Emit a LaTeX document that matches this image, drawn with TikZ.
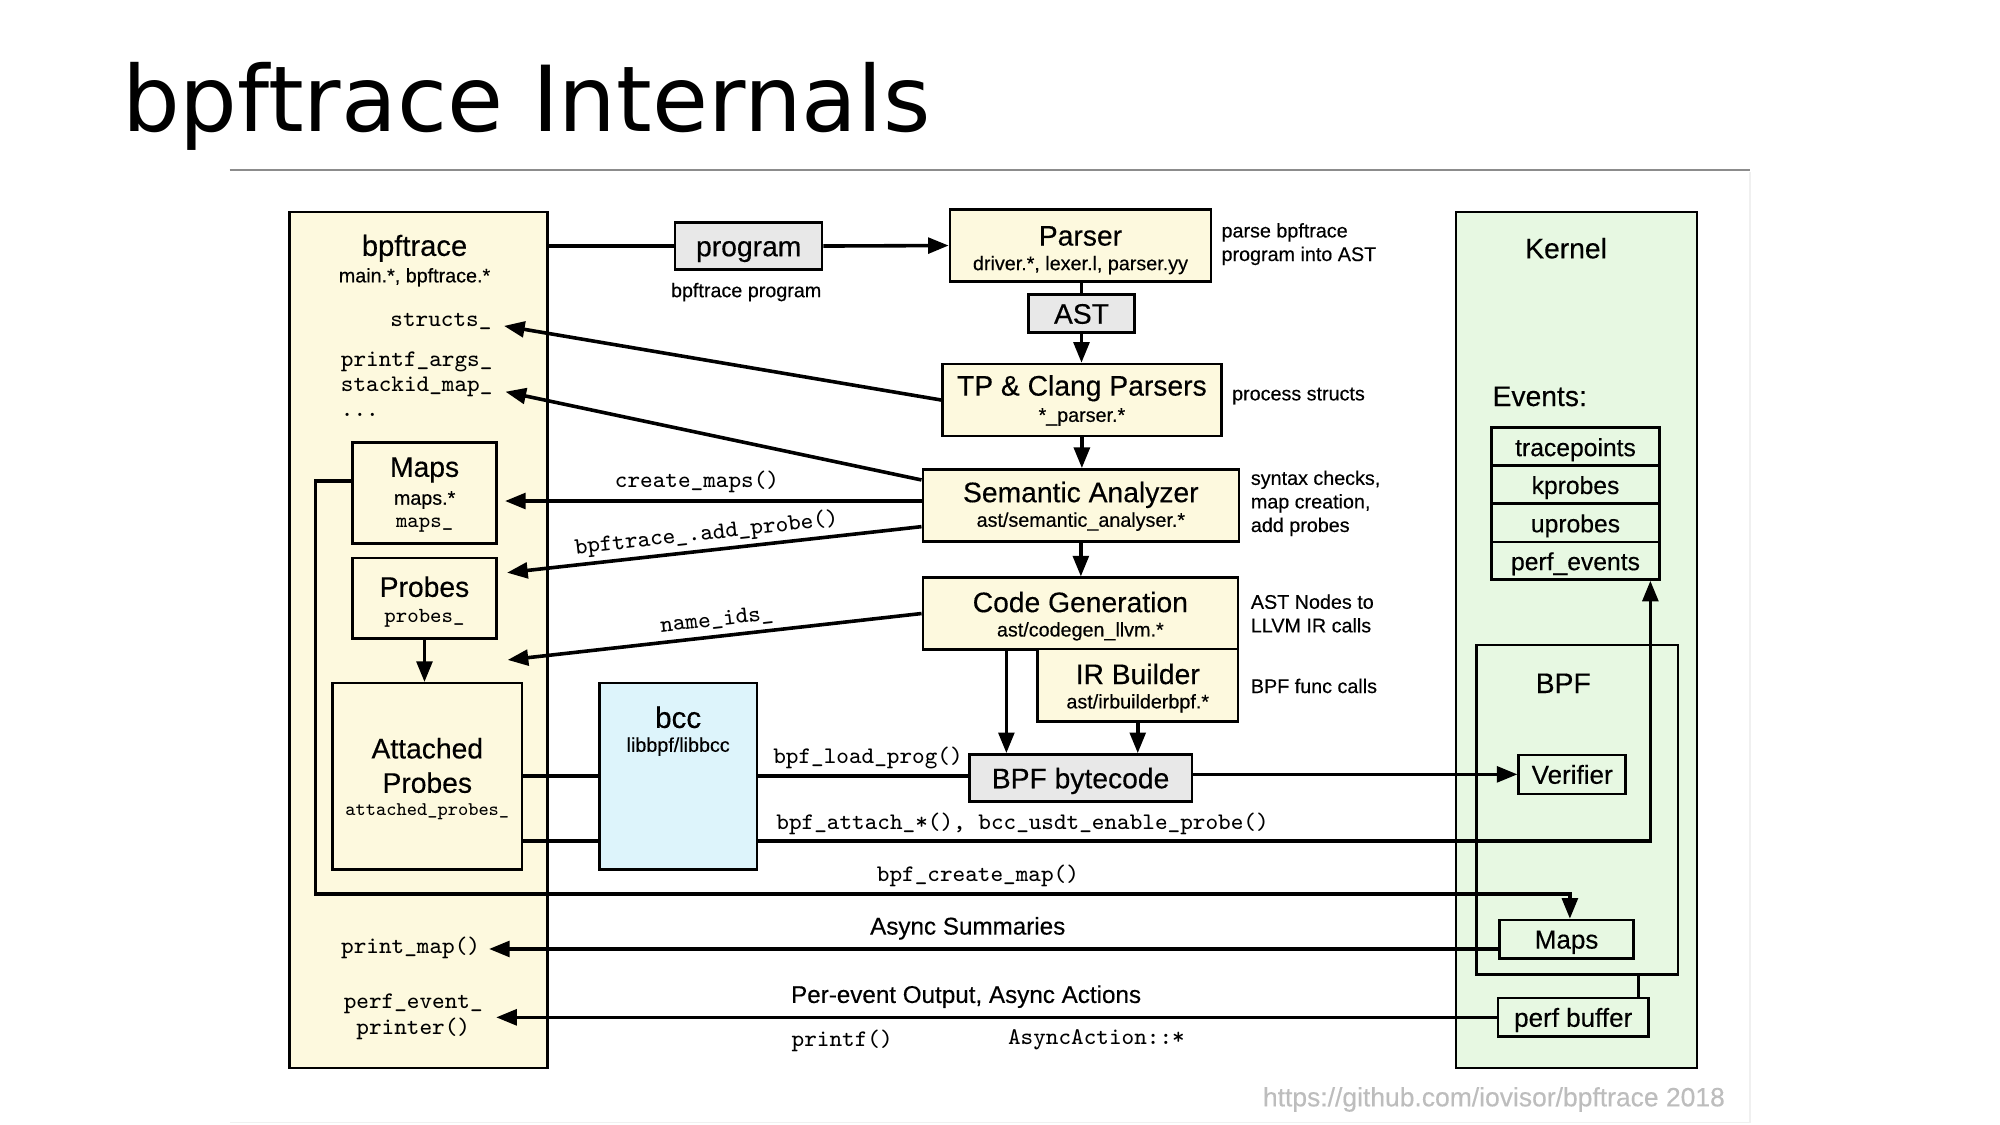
\documentclass[tikz,border=0pt]{standalone}
\usepackage{fontspec}
\setmainfont{Liberation Sans}[FakeBold=0.35]
\newfontfamily\titlefont{DejaVu Sans}
\usetikzlibrary{arrows.meta,calc}

\definecolor{cream}{HTML}{FDF9DE}
\definecolor{boxgray}{HTML}{E8E8E8}
\definecolor{bccblue}{HTML}{DDF4FB}
\definecolor{kgreen}{HTML}{E7F8E2}
\definecolor{footgray}{HTML}{BDBDBD}

\begin{document}
\begin{tikzpicture}[x=0.01cm,y=-0.01cm,
    every node/.style={inner sep=0pt},
    panel/.style={draw, line width=0.55pt},
    box/.style={panel, fill=cream},
    graybox/.style={panel, fill=boxgray, font=\fontsize{6.3}{7.6}\selectfont, text height=5.3pt, text depth=0.75pt},
    kbox/.style={panel, font=\fontsize{5.8}{7}\selectfont, text height=4.85pt, text depth=0.65pt},
    hd/.style={font=\fontsize{6.3}{7.6}\selectfont},
    sub/.style={font=\fontsize{4.4}{5.3}\selectfont},
    note/.style={font=\fontsize{4.4}{5.25}\selectfont, align=left, anchor=west},
    code/.style={font=\ttfamily\fontsize{5.3}{5.8}\selectfont},
    lbl/.style={font=\fontsize{5.4}{6.5}\selectfont},
    conn/.style={line width=0.8pt},
    arr/.style={conn, -{Triangle[length=4.6pt,width=3.5pt]}},
  ]
  \useasboundingbox (0,0) rectangle (1568,882);

  % slide title and frame
  \node[anchor=base west, font=\titlefont\fontsize{20.3}{24}\selectfont] (title) at (95,103) {bpftrace Internals};
  \draw[black!45, line width=0.4pt] (180,133) -- (1372,133);
  \draw[black!6, line width=0.4pt] (1372,135) -- (1372,880) -- (180,880);
  \node[anchor=east, font=\fontsize{5.9}{7}\selectfont, text=footgray] (foot) at (1353,862) {https://github.com/iovisor/bpftrace 2018};

  % the two sides
  \node[panel, fill=cream, minimum width=2.02cm, minimum height=6.704cm] (bpft) at (328,501.8) {};
  \node[panel, fill=kgreen, minimum width=1.89cm, minimum height=6.704cm] (kern) at (1236,501.8) {};
  \node[panel, minimum width=1.578cm, minimum height=2.58cm] (bpfbox) at (1236.6,634.8) {};

  % user space boxes
  \node[graybox, minimum width=1.152cm, minimum height=0.366cm] (prog) at (587,192.9) {program};
  \node[box, minimum width=2.046cm, minimum height=0.567cm] (parser) at (847.1,192.5) {};
  \node[graybox, minimum width=0.831cm, minimum height=0.301cm] (ast) at (847.9,245.8) {AST};
  \node[box, minimum width=2.187cm, minimum height=0.564cm] (tp) at (848.2,313.6) {};
  \node[box, minimum width=2.478cm, minimum height=0.566cm] (sem) at (847.4,396.3) {};
  \node[box, minimum width=2.469cm, minimum height=0.561cm] (cg) at (847,481) {};
  \node[box, minimum width=1.568cm, minimum height=0.568cm] (irb) at (892,537.4) {};
  \node[graybox, minimum width=1.744cm, minimum height=0.371cm] (bc) at (847.2,610) {BPF bytecode};
  \node[panel, fill=bccblue, minimum width=1.233cm, minimum height=1.458cm] (bcc) at (531.7,608.6) {};
  \node[box, minimum width=1.128cm, minimum height=0.792cm] (umaps) at (332.9,386.4) {};
  \node[box, minimum width=1.131cm, minimum height=0.628cm] (uprobes) at (332.8,469.1) {};
  \node[box, minimum width=1.484cm, minimum height=1.458cm] (attached) at (335,608.6) {};

  % kernel boxes
  \node[kbox, font=\fontsize{5.5}{6.6}\selectfont, minimum width=1.314cm, minimum height=0.297cm] (evtp) at (1235.2,350.2) {tracepoints};
  \node[kbox, font=\fontsize{5.5}{6.6}\selectfont, minimum width=1.314cm, minimum height=0.298cm] (evkp) at (1235.2,379.9) {kprobes};
  \node[kbox, font=\fontsize{5.5}{6.6}\selectfont, minimum width=1.314cm, minimum height=0.301cm] (evup) at (1235.2,409.9) {uprobes};
  \node[kbox, font=\fontsize{5.5}{6.6}\selectfont, minimum width=1.314cm, minimum height=0.294cm] (evpe) at (1235.2,439.6) {perf\_events};
  \node[kbox, minimum width=0.838cm, minimum height=0.304cm] (verif) at (1232.6,607.1) {Verifier};
  \node[kbox, minimum width=1.052cm, minimum height=0.30cm] (kmaps) at (1228.2,736.3) {Maps};
  \node[kbox, minimum width=1.18cm, minimum height=0.301cm] (pbuf) at (1233.4,797.6) {perf buffer};

  % texts inside bpftrace
  \node[font=\fontsize{6.5}{7.8}\selectfont] (t-bpft) at (325,194.7) {bpftrace};
  \node[sub] (t-bpfts) at (325,217.4) {main.*, bpftrace.*};
  \node[code, anchor=east] (structs) at (386,252) {structs\_};
  \node[code, anchor=west] (pargs) at (266.6,284) {printf\_args\_};
  \node[code, anchor=west] (stackid) at (266.6,303.6) {stackid\_map\_};
  \node[code, anchor=west] (udots) at (266.6,325) {...};
  \node[hd] (t-umaps) at (332.9,368.5) {Maps};
  \node[sub] (t-umapss) at (332.9,392) {maps.*};
  \node[code, font=\ttfamily\fontsize{4.8}{5.4}\selectfont] (t-umapsc) at (332.9,411.6) {maps\_};
  \node[hd] (t-uprobes) at (332.8,460) {Probes};
  \node[code, font=\ttfamily\fontsize{4.8}{5.4}\selectfont] (t-uprobesc) at (332.8,484.8) {probes\_};
  \node[hd] (t-att1) at (335,586.7) {Attached};
  \node[hd] (t-att2) at (335,613.6) {Probes};
  \node[code, font=\ttfamily\fontsize{4.3}{5}\selectfont] (t-att3) at (335,636.3) {attached\_probes\_};
  \node[code, anchor=west] (pmap) at (266.8,743.5) {print\_map()};
  \node[code, align=center, font=\ttfamily\fontsize{5.3}{5.83}\selectfont] (pev) at (324,797.2) {perf\_event\_\\printer()};

  % texts of the pipeline
  \node[sub] (t-prog) at (585,229) {bpftrace program};
  \node[hd] (t-parser) at (847.1,185) {Parser};
  \node[sub] (t-parsers) at (847.1,207.8) {driver.*, lexer.l, parser.yy};
  \node[note] (n-parser) at (957,191.4) {parse bpftrace\\program into AST};
  \node[hd] (t-tp) at (848.2,304.4) {TP \& Clang Parsers};
  \node[sub] (t-tps) at (848.2,327) {*\_parser.*};
  \node[note] (n-tp) at (965.3,310.5) {process structs};
  \node[hd] (t-sem) at (847.4,388) {Semantic Analyzer};
  \node[sub] (t-sems) at (847.4,409) {ast/semantic\_analyser.*};
  \node[note] (n-sem) at (980,394.6) {syntax checks,\\map creation,\\add probes};
  \node[hd] (t-cg) at (847,472) {Code Generation};
  \node[sub] (t-cgs) at (847,495) {ast/codegen\_llvm.*};
  \node[note] (n-cg) at (980,481) {AST Nodes to\\LLVM IR calls};
  \node[hd] (t-irb) at (892,528.4) {IR Builder};
  \node[sub] (t-irbs) at (892,551.4) {ast/irbuilderbpf.*};
  \node[note] (n-irb) at (980,537.8) {BPF func calls};
  \node[font=\fontsize{6.6}{7.9}\selectfont] (t-bcc) at (531.7,562.4) {bcc};
  \node[sub] (t-bccs) at (531.7,585.4) {libbpf/libbcc};

  % texts of the kernel
  \node[hd] (t-kern) at (1227.8,194.6) {Kernel};
  \node[hd, anchor=west] (t-events) at (1169.5,310.8) {Events:};
  \node[hd] (t-bpf) at (1225.6,535.7) {BPF};

  % front end
  \draw[conn] (bpft.east |- prog.west) -- (prog.west);
  \draw[arr] (prog.east) -- (parser.west);
  \draw[conn] (ast.north |- parser.south) -- (ast.north);
  \draw[arr] (ast.south) -- (ast.south |- tp.north);
  \draw[arr] (tp.south) -- (tp.south |- sem.north);
  \draw[arr] (sem.south) -- (sem.south |- cg.north);
  \draw[arr] ($(cg.south west)+(66.5,0)$) coordinate (cgout) -- (cgout |- bc.north);
  \draw[arr] (irb.south) -- (irb.south |- bc.north);

  % back to bpftrace
  \draw[arr] (tp.west) -- ([xshift=2.6pt,yshift=-1pt]structs.east);
  \draw[arr] ($(sem.west)+(0,-20)$) -- ([xshift=2.7pt,yshift=-1pt]stackid.east);
  \draw[arr, shorten >=1.6pt] ($(sem.west)+(0,-3.5)$) coordinate (semmap) -- (semmap -| umaps.east)
    node[code, above=1.4pt, pos=0.53] (l-cmaps) {create\_maps()};
  \draw[arr] ($(sem.west)+(0,16.6)$) -- ($(uprobes.east)+(7.2,-20.1)$)
    node[code, above=0.8pt, sloped, pos=0.514] (l-addp) {bpftrace\_.add\_probe()};
  \coordinate (nidend) at (398,517.4);
  \draw[arr] (cg.west) -- (nidend)
    node[code, above=1.2pt, sloped, pos=0.49] (l-nids) {name\_ids\_};
  \draw[arr] (uprobes.south) -- (uprobes.south |- attached.north);

  % through bcc
  \draw[conn] (attached.east) -- (bcc.west);
  \draw[conn] (bcc.east) -- (bcc.east -| bc.west);
  \draw[conn] ($(attached.east)+(0,50.7)$) coordinate (atlo) -- (atlo -| bcc.west);
  \draw[arr] ($(bcc.east)+(0,50.7)$) -| ($(evpe.south east)+(-8,0)$);
  \draw[arr] (bc.east |- verif.west) -- (verif.west);
  \coordinate (cmapc) at (247.5,701);
  \draw[arr] ($(umaps.west)+(0,-9.4)$) -| (cmapc) -| ($(kmaps.north)+(2.6,0)$);
  \node[code, anchor=west] (l-load) at (605.6,594.5) {bpf\_load\_prog()};
  \node[code, anchor=west] (l-attach) at (608,646) {bpf\_attach\_*(), bcc\_usdt\_enable\_probe()};
  \node[code, anchor=west] (l-cmap) at (686.8,686.8) {bpf\_create\_map()};

  % output from the kernel
  \draw[conn] ($(bpfbox.south east)+(-32,0)$) coordinate (bpfo) -- (bpfo |- pbuf.north);
  \draw[arr, shorten >=1.8pt] ($(kmaps.west)+(0,7.7)$) coordinate (asy) -- (asy -| pmap.east);
  \draw[arr, shorten >=2.8pt] (pbuf.west) -- (pbuf.west -| pev.east);
  \node[lbl, anchor=west] (l-async) at (681.5,727.8) {Async Summaries};
  \node[lbl, anchor=west] (l-perev) at (619.5,781.4) {Per-event Output, Async Actions};
  \node[code, anchor=west] (l-printf) at (620,815.9) {printf()};
  \node[code, anchor=west] (l-aact) at (789.6,815.3) {AsyncAction::*};
\end{tikzpicture}
\end{document}
